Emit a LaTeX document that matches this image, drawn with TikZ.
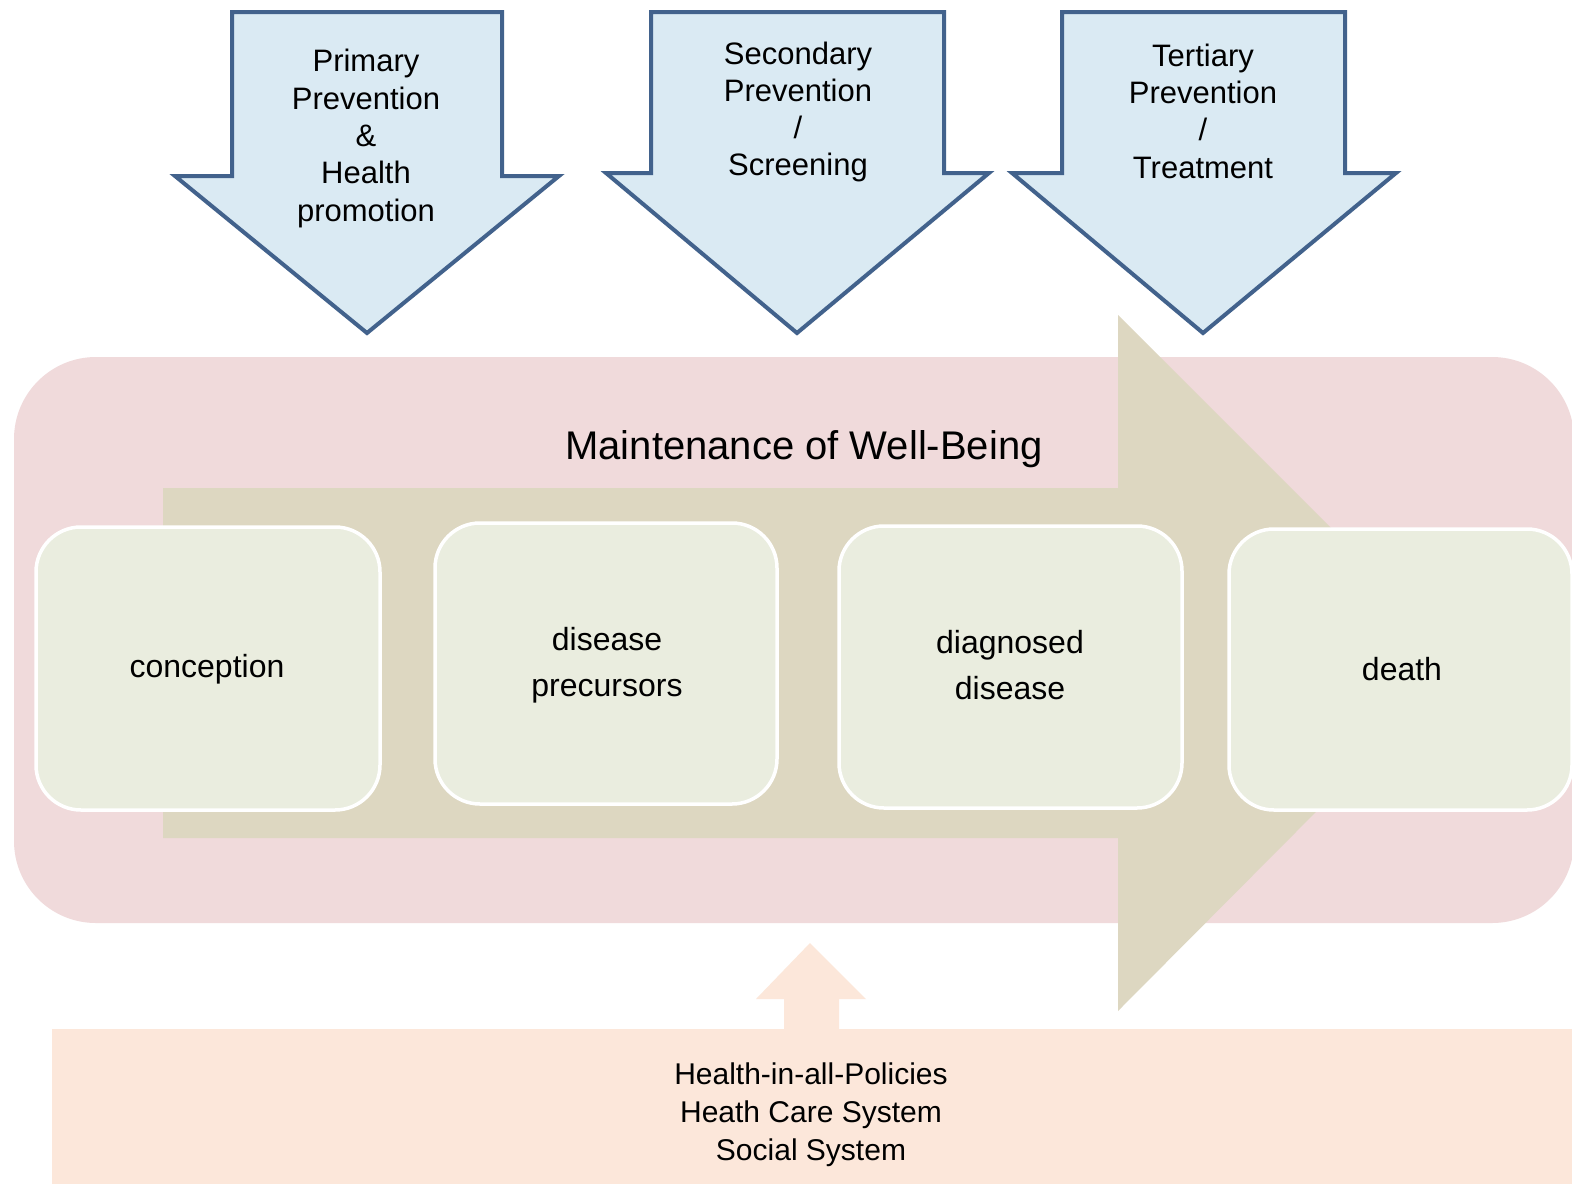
\documentclass[tikz,border=0pt]{standalone}
\usepackage{fontspec}
\setmainfont{Liberation Sans}
\definecolor{pinkbg}{HTML}{F0DADB}
\definecolor{tanarrow}{HTML}{DDD7C1}
\definecolor{boxfill}{HTML}{EAEDDF}
\definecolor{bluefill}{HTML}{DAEAF3}
\definecolor{bluedraw}{HTML}{42628C}
\definecolor{orangebg}{HTML}{FCE7DA}
\tikzset{
  stagebox/.style={draw=white, line width=3.5pt, fill=boxfill, rounded corners=45pt},
  downarrow/.style={draw=bluedraw, line width=4pt, fill=bluefill, line join=miter},
  arrowtext/.style={align=center, font=\fontsize{31}{37.3}\selectfont},
  stagetext/.style={align=center, font=\fontsize{32}{46}\selectfont},
}
\begin{document}
\begin{tikzpicture}[x=1pt,y=-1pt]
\useasboundingbox (0,0) rectangle (1572,1184);
\fill[white] (0,0) rectangle (1572,1184);
% pink background
\fill[pinkbg, rounded corners=82pt] (14,357) rectangle (1574,923);
% tan process arrow
\fill[tanarrow] (163,488) -- (1118,488) -- (1118,315) -- (1465,662) -- (1118,1011) -- (1118,838) -- (163,838) -- cycle;
\node[font=\fontsize{40}{48}\selectfont] (title) at (804,449) {Maintenance of Well-Being};
% stage boxes
\draw[stagebox] (36,527) rectangle (380,810);
\node[stagetext] (conc) at (207,669) {conception};
\draw[stagebox] (435,523) rectangle (777,804);
\node[stagetext] (prec) at (607,665) {disease\\precursors};
\draw[stagebox] (839,526) rectangle (1182,808);
\node[stagetext] (diag) at (1010,665) {diagnosed\\disease};
\draw[stagebox] (1229,529) rectangle (1572,810);
\node[stagetext] (death) at (1402,669) {death};
% prevention arrows
\draw[downarrow] (232,12) -- (502,12) -- (502,176) -- (559,176) -- (367,333) -- (175,176) -- (232,176) -- cycle;
\node[arrowtext] (prim) at (366,138.5) {Primary\\Prevention\\\&\\Health\\promotion};
\draw[downarrow] (651,12) -- (944,12) -- (944,173) -- (989,173) -- (797,333) -- (606,173) -- (651,173) -- cycle;
\node[arrowtext] (sec) at (798,112) {Secondary\\Prevention\\/\\Screening};
\draw[downarrow] (1062,12) -- (1345,12) -- (1345,173) -- (1396,173) -- (1203,333) -- (1012,173) -- (1062,173) -- cycle;
\node[arrowtext] (ter) at (1203,111) {Tertiary\\Prevention\\/\\Treatment};
% bottom systems
\fill[orangebg] (52,1029) rectangle (1572,1184);
\fill[orangebg] (784,1030) -- (784,999) -- (756,999) -- (810,943) -- (866,999) -- (839,999) -- (839,1030) -- cycle;
\node[align=center, font=\fontsize{30}{38}\selectfont] (sys) at (811,1115) {Health-in-all-Policies\\Heath Care System\\Social System};
\end{tikzpicture}
\end{document}
